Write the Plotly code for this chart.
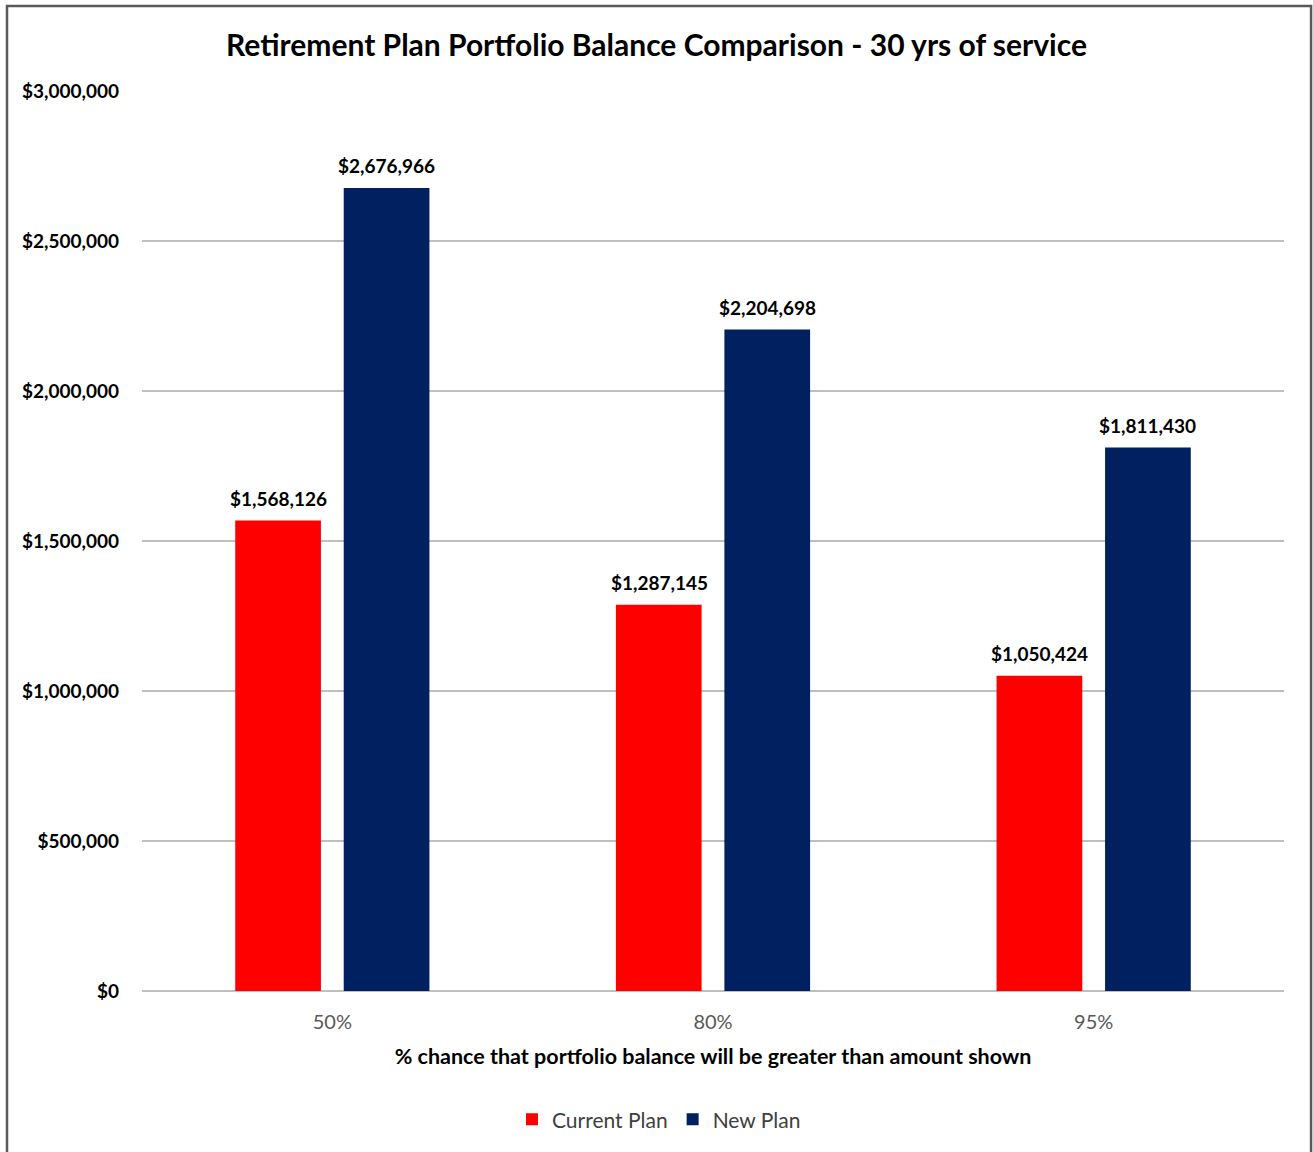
import plotly.graph_objects as go

categories = ["50%", "80%", "95%"]
current_plan = [1568126, 1287145, 1050424]
new_plan = [2676966, 2204698, 1811430]
y_ticks = [0, 500000, 1000000, 1500000, 2000000, 2500000, 3000000]
y_tick_labels = ["$0", "$500,000", "$1,000,000", "$1,500,000", "$2,000,000", "$2,500,000", "$3,000,000"]

FONT = "Lato, 'Open Sans', sans-serif"

fig = go.Figure()
fig.add_trace(go.Bar(
    x=categories, y=current_plan, name="Current Plan",
    marker=dict(color="#FF0000", line=dict(width=0)),
))
fig.add_trace(go.Bar(
    x=categories, y=new_plan, name="New Plan",
    marker=dict(color="#002060", line=dict(width=0)),
))

annotations = []
for cat, cur, new in zip(categories, current_plan, new_plan):
    for val, shift in ((cur, -54), (new, 54)):
        annotations.append(dict(
            x=cat, y=val, xref="x", yref="y", text=f"<b>${val:,.0f}</b>",
            showarrow=False, xshift=shift, yshift=9, yanchor="bottom",
            font=dict(family=FONT, size=19, color="#000000"),
        ))

fig.update_layout(
    width=1313, height=1152,
    margin=dict(l=142, r=29, t=91, b=161),
    paper_bgcolor="white", plot_bgcolor="white",
    barmode="group", bargap=0.43, bargroupgap=0.21,
    font=dict(family=FONT),
    title=dict(
        text="<b>Retirement Plan Portfolio Balance Comparison - 30 yrs of service</b>",
        x=0.5, xanchor="center", y=1 - 45 / 1152, yanchor="middle",
        font=dict(family=FONT, size=30, color="#000000"),
    ),
    showlegend=True,
    legend=dict(
        orientation="h", x=0.4527, xanchor="center", y=-0.143, yanchor="middle",
        font=dict(family=FONT, size=21, color="#404040"),
        itemwidth=30, traceorder="normal",
    ),
    xaxis=dict(
        showgrid=False, showline=False, ticks="",
        tickfont=dict(family=FONT, size=20, color="#595959"),
        ticklabelstandoff=17,
        title=dict(
            text="<b>% chance that portfolio balance will be greater than amount shown</b>",
            font=dict(family=FONT, size=21.5, color="#000000"),
            standoff=16,
        ),
    ),
    yaxis=dict(
        range=[0, 3000000],
        tickvals=y_ticks, ticktext=[f"<b>{t}</b>" for t in y_tick_labels],
        tickfont=dict(family=FONT, size=19, color="#000000"),
        showgrid=True, gridcolor="#BFBFBF", gridwidth=2,
        zeroline=True, zerolinecolor="#BFBFBF", zerolinewidth=2,
        showline=False, ticks="", ticklabelstandoff=22,
    ),
    annotations=annotations,
    shapes=[dict(
        type="rect", xref="paper", yref="paper",
        x0=-0.1182, x1=1.0237, y0=-0.19, y1=1.0944,
        line=dict(color="#595959", width=2.5), fillcolor="rgba(0,0,0,0)",
        layer="above",
    )],
)

fig.write_html("out.html")
